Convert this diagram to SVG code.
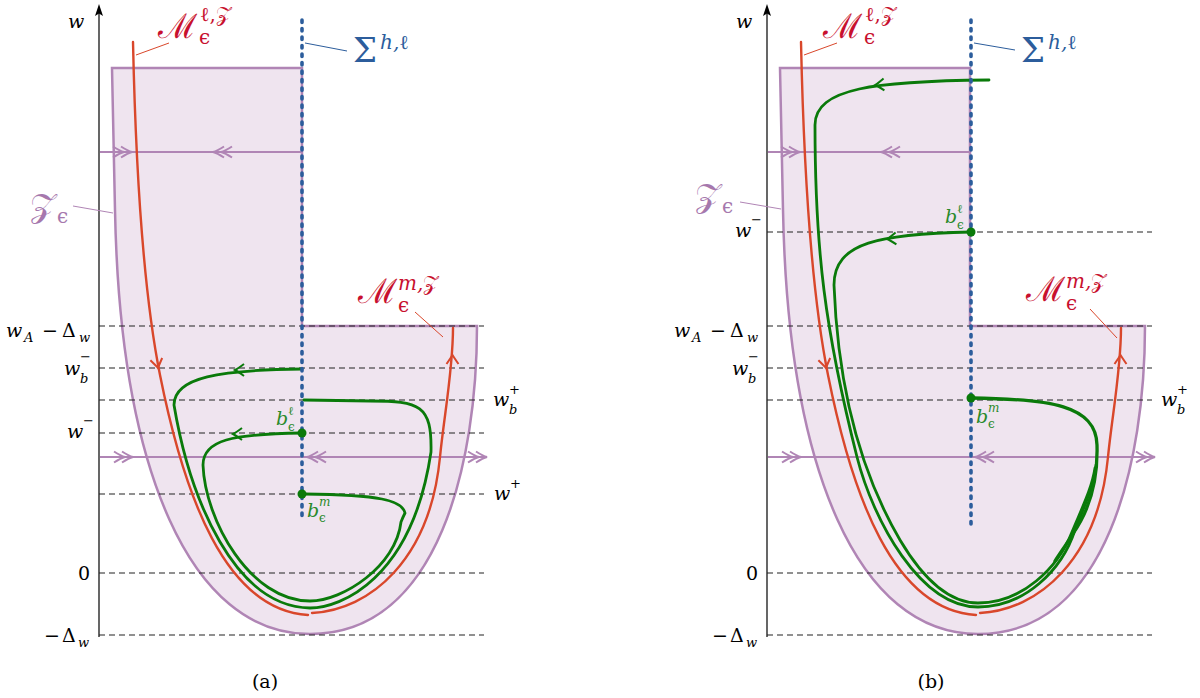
<svg xmlns="http://www.w3.org/2000/svg" xmlns:xlink="http://www.w3.org/1999/xlink" width="1200" height="698" viewBox="0 0 1200 698">
<defs>
<style>
.zfill{fill:#efe4ef;stroke:#b085b5;stroke-width:2.5}
.dash{stroke:#222;stroke-width:1.1;stroke-dasharray:6 4;fill:none}
.axis{stroke:#000;stroke-width:1.2;fill:none}
.red{fill:none;stroke:#d9472b;stroke-width:2.4;stroke-linecap:round}
.grn{fill:none;stroke:#0a7a0a;stroke-width:2.8;stroke-linecap:round}
.sig{fill:none;stroke:#2c5d9c;stroke-width:3.6;stroke-linecap:round;stroke-dasharray:2.5 6}
.pl{stroke:#b085b5;stroke-width:2;fill:none}
.lead{fill:none;stroke-width:1}
.t{font-size:19px;fill:#000}
.i{font-style:italic}
.s{font-size:13px}
.g{font-size:12px}
.big{font-size:34px}
.sup{font-size:20px}
.redt{fill:#c8102e}
.blut{fill:#2c5d9c}
.purt{fill:#a678ad}
.grnt{fill:#2a8a2a}
</style>
<path id="cR" d="M-19,-5.5 Q-12,-1 -8,0 Q-12,1 -19,5.5 M-11,-5.5 Q-4,-1 0,0 Q-4,1 -11,5.5" fill="none" stroke="#b085b5" stroke-width="2"/>
<path id="cL" d="M19,-5.5 Q12,-1 8,0 Q12,1 19,5.5 M11,-5.5 Q4,-1 0,0 Q4,1 11,5.5" fill="none" stroke="#b085b5" stroke-width="2"/>
<path id="gA" d="M9,-6 Q3,-1.5 0,0 Q3,1.5 9,6" fill="none" stroke="#0a7a0a" stroke-width="2"/>
<path id="rA" d="M-6,-9 Q-1.5,-2.5 0,0 Q1.5,-2.5 6,-9" fill="none" stroke="#d9472b" stroke-width="2"/>
<g id="base">
  <path class="zfill" d="M112,68 L302,68 L302,326 L477,326 C477,460 440,634 310,634 C190,634 120,470 115,210 Z"/>
  <line class="axis" x1="99" y1="637" x2="99" y2="12"/>
  <path d="M99,4 L95,16 L99,13.5 L103,16 Z" fill="#000"/>
</g>
<g id="zarrows">
  <line class="pl" x1="100" y1="152" x2="302" y2="152"/>
  <use xlink:href="#cR" x="132" y="152"/>
  <use xlink:href="#cL" x="213" y="152"/>
  <line class="pl" x1="100" y1="457" x2="487" y2="457"/>
  <use xlink:href="#cR" x="133" y="457"/>
  <use xlink:href="#cL" x="307" y="457"/>
  <use xlink:href="#cR" x="487" y="457"/>
</g>
<g id="redc">
  <path class="red" d="M133,42 C136,180 145,300 160,375 C184,495 225,610 308,615"/>
  <path class="red" d="M312,613 C370,610 430,560 440,457 C444,416 453,370 453,328"/>
  <use xlink:href="#rA" transform="translate(158,368) rotate(-11)"/>
  <use xlink:href="#rA" transform="translate(452.5,355) rotate(180)"/>
</g>
</defs>

<g id="panel-a">
  <use xlink:href="#base"/>
  <g id="a-levels">
    <line class="dash" x1="99" y1="326" x2="484" y2="326"/>
    <line class="dash" x1="99" y1="368" x2="484" y2="368"/>
    <line class="dash" x1="99" y1="400" x2="484" y2="400"/>
    <line class="dash" x1="99" y1="433" x2="484" y2="433"/>
    <line class="dash" x1="99" y1="494" x2="484" y2="494"/>
    <line class="dash" x1="99" y1="573" x2="484" y2="573"/>
    <line class="dash" x1="99" y1="635" x2="484" y2="635"/>
  </g>
  <use xlink:href="#zarrows"/>
  <use xlink:href="#redc"/>
  <g id="a-orbits">
    <path class="grn" d="M302,369 C220,370 174,377 174,405 C190,500 235,607 310,608 C340,608 412,580 431,452 C432,405 420,401 370,401 L304,400"/>
    <path class="grn" d="M302,433 C232,434 203,440 203,465 C205,520 250,601 310,601 C343,601 396,566 401,522 Q403,517 405,513 C402,500 380,495 304,494"/>
    <use xlink:href="#gA" x="235" y="370"/>
    <use xlink:href="#gA" x="233" y="434"/>
  </g>
  <line id="a-sigma" class="sig" x1="302" y1="20" x2="302" y2="519"/>
  <circle cx="302" cy="433" r="4.5" fill="#0a7a0a"/>
  <circle cx="302" cy="494" r="4.5" fill="#0a7a0a"/>
  <g id="a-leaders">
    <line class="lead" x1="136" y1="55" x2="169" y2="43" stroke="#d9472b"/>
    <line class="lead" x1="305" y1="43" x2="347" y2="51" stroke="#2c5d9c"/>
    <line class="lead" x1="73" y1="206" x2="113" y2="213" stroke="#b085b5"/>
    <line class="lead" x1="415" y1="312" x2="443" y2="337" stroke="#d9472b"/>
  </g>
  <g id="a-labels" font-family="DejaVu Serif, serif">
    <text class="t i" x="68" y="28">w</text>
    <text class="big redt" x="158" y="38">ℳ</text>
    <text class="sup redt" x="200" y="21">ℓ,𝒵</text>
    <text class="sup redt" x="199" y="44">ϵ</text>
    <text class="big blut" x="353" y="62">Σ</text>
    <text class="sup blut i" x="380" y="49">h,<tspan font-style="normal">ℓ</tspan></text>
    <text class="big purt" x="30" y="217">𝒵</text>
    <text class="sup purt" x="57" y="223">ϵ</text>
    <text class="big redt" x="358" y="303">ℳ</text>
    <text class="sup redt i" x="398" y="290">m,<tspan font-style="normal">𝒵</tspan></text>
    <text class="sup redt" x="398" y="312">ϵ</text>
    <text class="t grnt i" x="276" y="425">b</text>
    <text class="grnt g" x="288" y="415">ℓ</text>
    <text class="grnt g" x="288" y="431">ϵ</text>
    <text class="t grnt i" x="307" y="517">b</text>
    <text class="grnt g i" x="319" y="506">m</text>
    <text class="grnt g" x="319" y="522">ϵ</text>
    <text class="t"><tspan class="i" x="6" y="337">w</tspan><tspan class="i s" x="24" y="342">A</tspan><tspan x="42" y="337">−</tspan><tspan x="62" y="337">Δ</tspan><tspan class="i s" x="79" y="342">w</tspan></text>
    <text class="t"><tspan class="i" x="64" y="375">w</tspan><tspan class="s" x="80" y="361">−</tspan><tspan class="i s" x="80" y="383">b</tspan></text>
    <text class="t"><tspan class="i" x="67" y="438">w</tspan><tspan class="s" x="83" y="425">−</tspan></text>
    <text class="t" x="78" y="580">0</text>
    <text class="t"><tspan x="44" y="642">−</tspan><tspan x="62" y="642">Δ</tspan><tspan class="i s" x="78" y="647">w</tspan></text>
    <text class="t"><tspan class="i" x="493" y="406">w</tspan><tspan class="s" x="509" y="394">+</tspan><tspan class="i s" x="509" y="414">b</tspan></text>
    <text class="t"><tspan class="i" x="494" y="500">w</tspan><tspan class="s" x="510" y="488">+</tspan></text>
    <text class="t" x="265" y="688" text-anchor="middle" font-size="20">(a)</text>
  </g>
</g>

<g id="panel-b">
  <use xlink:href="#base" transform="translate(668,0)"/>
  <g id="b-levels">
    <line class="dash" x1="767" y1="232" x2="1152" y2="232"/>
    <line class="dash" x1="767" y1="326" x2="1152" y2="326"/>
    <line class="dash" x1="767" y1="368" x2="1152" y2="368"/>
    <line class="dash" x1="767" y1="400" x2="1152" y2="400"/>
    <line class="dash" x1="767" y1="573" x2="1152" y2="573"/>
    <line class="dash" x1="767" y1="635" x2="1152" y2="635"/>
  </g>
  <use xlink:href="#zarrows" transform="translate(668,0)"/>
  <use xlink:href="#redc" transform="translate(668,0)"/>
  <g id="b-orbits">
    <path class="grn" d="M989,80 C875,81 815,88 815,125 C815,250 825,330 857,457 C873,520 920,607 978,607 C1025,607 1062,570 1075,530 C1085,505 1094,485 1096,465"/>
    <path class="grn" d="M971,232 C880,234 834,242 834,285 C838,390 862,475 900,540 C919,572 945,603 978,603 C1022,603 1058,568 1072,532 C1082,508 1092,488 1095,468"/>
    <path class="grn" style="stroke-width:3.3" d="M971,398 C1050,399 1096,405 1097,445 C1098,480 1090,510 1072,535 C1066,545 1060,553 1055,561"/>
    <use xlink:href="#gA" transform="translate(875,85) rotate(-4)"/>
    <use xlink:href="#gA" transform="translate(887,239) rotate(-4)"/>
  </g>
  <line id="b-sigma" class="sig" x1="971" y1="20" x2="971" y2="527"/>
  <circle cx="971" cy="232" r="4.5" fill="#0a7a0a"/>
  <circle cx="971" cy="398" r="4.5" fill="#0a7a0a"/>
  <g id="b-leaders">
    <line class="lead" x1="804" y1="55" x2="837" y2="43" stroke="#d9472b"/>
    <line class="lead" x1="974" y1="43" x2="1015" y2="50" stroke="#2c5d9c"/>
    <line class="lead" x1="740" y1="202" x2="781" y2="209" stroke="#b085b5"/>
    <line class="lead" x1="1090" y1="309" x2="1117" y2="338" stroke="#d9472b"/>
  </g>
  <g id="b-labels" font-family="DejaVu Serif, serif">
    <text class="t i" x="736" y="28">w</text>
    <text class="big redt" x="823" y="38">ℳ</text>
    <text class="sup redt" x="865" y="21">ℓ,𝒵</text>
    <text class="sup redt" x="864" y="44">ϵ</text>
    <text class="big blut" x="1021" y="62">Σ</text>
    <text class="sup blut i" x="1048" y="49">h,<tspan font-style="normal">ℓ</tspan></text>
    <text class="big purt" x="695" y="207">𝒵</text>
    <text class="sup purt" x="722" y="213">ϵ</text>
    <text class="big redt" x="1026" y="301">ℳ</text>
    <text class="sup redt i" x="1066" y="288">m,<tspan font-style="normal">𝒵</tspan></text>
    <text class="sup redt" x="1066" y="310">ϵ</text>
    <text class="t grnt i" x="945" y="223">b</text>
    <text class="grnt g" x="957" y="213">ℓ</text>
    <text class="grnt g" x="957" y="229">ϵ</text>
    <text class="t grnt i" x="976" y="423">b</text>
    <text class="grnt g i" x="988" y="412">m</text>
    <text class="grnt g" x="988" y="428">ϵ</text>
    <text class="t"><tspan class="i" x="735" y="237">w</tspan><tspan class="s" x="751" y="224">−</tspan></text>
    <text class="t"><tspan class="i" x="674" y="337">w</tspan><tspan class="i s" x="692" y="342">A</tspan><tspan x="710" y="337">−</tspan><tspan x="730" y="337">Δ</tspan><tspan class="i s" x="747" y="342">w</tspan></text>
    <text class="t"><tspan class="i" x="732" y="375">w</tspan><tspan class="s" x="748" y="361">−</tspan><tspan class="i s" x="748" y="383">b</tspan></text>
    <text class="t" x="746" y="580">0</text>
    <text class="t"><tspan x="712" y="642">−</tspan><tspan x="730" y="642">Δ</tspan><tspan class="i s" x="746" y="647">w</tspan></text>
    <text class="t"><tspan class="i" x="1161" y="406">w</tspan><tspan class="s" x="1177" y="394">+</tspan><tspan class="i s" x="1177" y="414">b</tspan></text>
    <text class="t" x="931" y="688" text-anchor="middle" font-size="20">(b)</text>
  </g>
</g>
</svg>
